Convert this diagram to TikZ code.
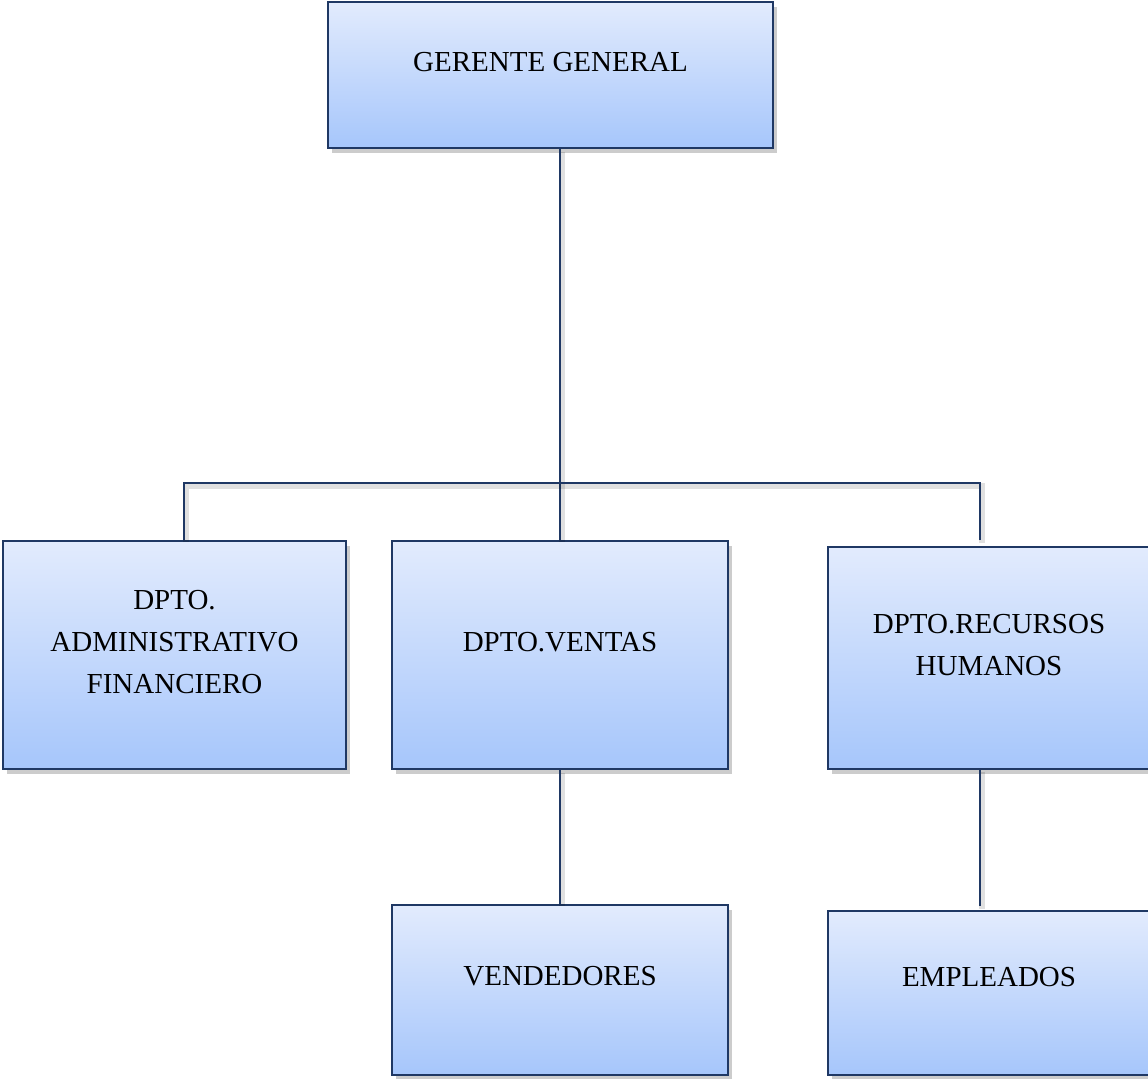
\documentclass[tikz,border=0pt]{standalone}
\usepackage{fontspec}
\setmainfont{Liberation Serif}
\usepackage{xcolor}
\usetikzlibrary{shadows}
\definecolor{boxtop}{RGB}{226, 235, 253}
\definecolor{boxbot}{RGB}{166, 198, 251}
\definecolor{edge}{RGB}{31, 56, 100}

\tikzset{
    box/.style={rectangle, draw=edge, line width=1.4pt, top color=boxtop, bottom color=boxbot,
        drop shadow={shadow xshift=0.07cm, shadow yshift=-0.1cm, opacity=0.2, fill=black}},
    txt/.style={align=center, font=\fontsize{16.5}{24}\selectfont},
    conn/.style={draw=edge, line width=1.4pt,
        preaction={draw=black, opacity=0.12, line width=3.5pt, transform canvas={xshift=1.2pt, yshift=-1.5pt}}}
}

\begin{document}
\begin{tikzpicture}
            \useasboundingbox (0, 0) rectangle (22.96, -21.56);
            \node[box, minimum width=8.9cm, minimum height=2.92cm](gg) at (11.01, -1.5) {};
            \node[box, minimum width=6.86cm, minimum height=4.56cm](adm) at (3.49, -13.1) {};
            \node[box, minimum width=6.72cm, minimum height=4.56cm](ven) at (11.2, -13.1) {};
            \node[box, minimum width=6.44cm, minimum height=4.44cm](rrhh) at (19.78, -13.16) {};
            \node[box, minimum width=6.72cm, minimum height=3.4cm](vend) at (11.2, -19.8) {};
            \node[box, minimum width=6.44cm, minimum height=3.28cm](emp) at (19.78, -19.86) {};
            \node[txt](ggt) at ([yshift=0.26cm]gg.center) {GERENTE GENERAL};
            \node[txt](admt) at ([yshift=0.26cm]adm.center) {DPTO.\\ADMINISTRATIVO\\FINANCIERO};
            \node[txt](vent) at ([yshift=0.26cm]ven.center) {DPTO.VENTAS};
            \node[txt](rrhht) at ([yshift=0.26cm]rrhh.center) {DPTO.RECURSOS\\HUMANOS};
            \node[txt](vendt) at ([yshift=0.28cm]vend.center) {VENDEDORES};
            \node[txt](empt) at ([yshift=0.32cm]emp.center) {EMPLEADOS};
            \coordinate(busl) at (3.68, -9.66);
            \coordinate(busr) at (19.6, -9.66);
            \coordinate(rrhhin) at (19.6, -10.8);
            \coordinate(rrhhout) at (19.6, -15.38);
            \coordinate(empin) at (19.6, -18.12);
            \draw[conn] (gg.south -| ven.north) -- (ven.north);
            \draw[conn] (busl |- adm.north) -- (busl) -- (busr) -- (rrhhin);
            \draw[conn] (ven.south) -- (vend.north);
            \draw[conn] (rrhhout) -- (empin);
        \end{tikzpicture}
\end{document}
